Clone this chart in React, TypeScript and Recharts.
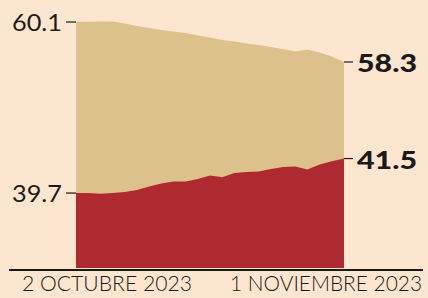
import React from 'react';
import { AreaChart, Area, XAxis, YAxis, ReferenceDot } from 'recharts';

// weekdays, 2 Oct 2023 - 1 Nov 2023
const dates = [
  '2023-10-02', '2023-10-03', '2023-10-04', '2023-10-05', '2023-10-06',
  '2023-10-09', '2023-10-10', '2023-10-11', '2023-10-12', '2023-10-13',
  '2023-10-16', '2023-10-17', '2023-10-18', '2023-10-19', '2023-10-20',
  '2023-10-23', '2023-10-24', '2023-10-25', '2023-10-26', '2023-10-27',
  '2023-10-30', '2023-10-31', '2023-11-01',
];

const upperValues = [
  60.1, 60.11, 60.12, 60.12, 60.03, 59.92, 59.83, 59.74, 59.67, 59.6, 59.49, 59.4,
  59.29, 59.22, 59.13, 59.06, 58.97, 58.88, 58.77, 58.86, 58.73, 58.55, 58.3,
];

const lowerValues = [
  39.7, 39.7, 39.67, 39.7, 39.75, 39.86, 40.04, 40.2, 40.3, 40.3, 40.43, 40.61,
  40.53, 40.74, 40.8, 40.82, 40.95, 41.06, 41.08, 40.93, 41.19, 41.36, 41.5,
];

const tickLabels: Record<string, string> = {
  '2023-10-02': '2 OCTUBRE 2023',
  '2023-11-01': '1 NOVIEMBRE 2023',
};

const data = dates.map((d, i) => ({ date: d, upper: upperValues[i], lower: lowerValues[i] }));

const BG = '#FDE6D0';
const TAN = '#DCC18D';
const RED = '#AE2A30';
const INK = '#1c1a18';
const FONT = 'Lato, "Open Sans", sans-serif';

const first = dates[0];
const last = dates[dates.length - 1];

const LeftLabel = (text: string) => (props: any) => {
  const { cx, cy } = props;
  return (
    <g>
      <line x1={cx - 10} x2={cx} y1={cy} y2={cy} stroke={INK} strokeWidth={1.2} />
      <text x={cx - 14} y={cy + 9} textAnchor="end" fontFamily={FONT} fontSize={24} fill={INK}
        textLength={50} lengthAdjust="spacingAndGlyphs">
        {text}
      </text>
    </g>
  );
};

const RightLabel = (text: string) => (props: any) => {
  const { cx, cy } = props;
  return (
    <g>
      <line x1={cx} x2={cx + 9} y1={cy} y2={cy} stroke={INK} strokeWidth={1.2} />
      <text x={cx + 13} y={cy + 10} fontFamily={FONT} fontWeight={900} fontSize={25} fill={INK}
        textLength={60} lengthAdjust="spacingAndGlyphs">
        {text}
      </text>
    </g>
  );
};

const DateTick = (props: any) => {
  const { x, y, payload } = props;
  const isFirst = payload.value === first;
  const label = tickLabels[payload.value];
  return (
    <text
      x={isFirst ? x - 54 : x + 78}
      y={y + 23}
      textAnchor={isFirst ? 'start' : 'end'}
      fontFamily={FONT}
      fontWeight={300}
      fontSize={21}
      fill={INK}
      textLength={isFirst ? 170 : 192}
      lengthAdjust="spacingAndGlyphs"
    >
      {label}
    </text>
  );
};

export default function App() {
  return (
    <div style={{ position: 'absolute', left: 0, top: 0, width: 428, height: 298, background: BG }}>
      <AreaChart width={428} height={298} data={data} margin={{ top: 10, right: 84, bottom: 0, left: 76 }}>
        <XAxis
          dataKey="date"
          ticks={[first, last]}
          interval={0}
          tick={DateTick}
          tickLine={false}
          axisLine={false}
          tickSize={0}
          tickMargin={0}
          height={30}
        />
        <YAxis yAxisId="u" hide domain={[49.03, 60.64]} allowDataOverflow />
        <YAxis yAxisId="l" hide domain={[35.79, 49.25]} allowDataOverflow />
        <Area yAxisId="u" type="linear" dataKey="upper" stroke="none" fill={TAN} fillOpacity={1}
          isAnimationActive={false} dot={false} activeDot={false} />
        <Area yAxisId="l" type="linear" dataKey="lower" stroke="none" fill={RED} fillOpacity={1}
          isAnimationActive={false} dot={false} activeDot={false} />
        <ReferenceDot yAxisId="u" x={first} y={upperValues[0]} r={0} ifOverflow="visible"
          shape={LeftLabel('60.1')} />
        <ReferenceDot yAxisId="l" x={first} y={lowerValues[0]} r={0} ifOverflow="visible"
          shape={LeftLabel('39.7')} />
        <ReferenceDot yAxisId="u" x={last} y={upperValues[upperValues.length - 1]} r={0} ifOverflow="visible"
          shape={RightLabel('58.3')} />
        <ReferenceDot yAxisId="l" x={last} y={lowerValues[lowerValues.length - 1]} r={0} ifOverflow="visible"
          shape={RightLabel('41.5')} />
      </AreaChart>
      <div style={{ position: 'absolute', left: 9, top: 269, width: 414, height: 2, background: INK }} />
    </div>
  );
}
